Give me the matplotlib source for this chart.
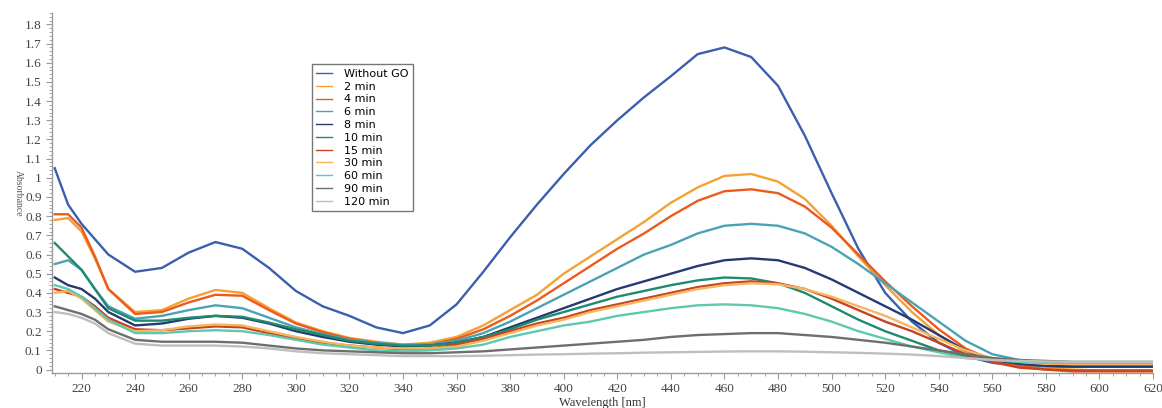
import matplotlib
matplotlib.use("Agg")
import matplotlib.pyplot as plt
from matplotlib.ticker import MultipleLocator, FuncFormatter

plt.rcParams['font.family'] = ['Liberation Serif', 'DejaVu Serif']

wavelength = [210, 215, 220, 225, 230, 240, 250, 260, 270, 280, 290, 300, 310, 320, 330,
              340, 350, 360, 370, 380, 390, 400, 410, 420, 430, 440, 450, 460, 470, 480,
              490, 500, 510, 520, 530, 540, 550, 560, 570, 580, 590, 600, 610, 620]

without_go = [1.05, 0.86, 0.76, 0.68, 0.60, 0.51, 0.53, 0.61, 0.665, 0.63, 0.53, 0.41, 0.33, 0.28, 0.22,
              0.19, 0.23, 0.34, 0.51, 0.69, 0.86, 1.02, 1.17, 1.30, 1.42, 1.53, 1.645, 1.68, 1.63, 1.48,
              1.22, 0.92, 0.63, 0.40, 0.25, 0.14, 0.07, 0.035, 0.02, 0.015, 0.015, 0.015, 0.015, 0.015]
min_2 = [0.78, 0.79, 0.72, 0.58, 0.42, 0.30, 0.31, 0.37, 0.415, 0.40, 0.32, 0.245, 0.20, 0.165, 0.145,
         0.13, 0.14, 0.17, 0.23, 0.31, 0.39, 0.50, 0.59, 0.68, 0.77, 0.87, 0.95, 1.01, 1.02, 0.98,
         0.89, 0.75, 0.59, 0.44, 0.30, 0.18, 0.09, 0.04, 0.015, 0.005, 0.0, -0.005, -0.005, -0.005]
min_4 = [0.81, 0.81, 0.74, 0.59, 0.42, 0.29, 0.30, 0.35, 0.39, 0.385, 0.31, 0.24, 0.195, 0.16, 0.14,
         0.125, 0.13, 0.16, 0.21, 0.28, 0.36, 0.45, 0.54, 0.63, 0.71, 0.80, 0.88, 0.93, 0.94, 0.92,
         0.85, 0.74, 0.60, 0.46, 0.33, 0.21, 0.11, 0.05, 0.02, 0.0, -0.01, -0.01, -0.01, -0.01]
min_6 = [0.55, 0.57, 0.52, 0.42, 0.33, 0.265, 0.28, 0.31, 0.335, 0.32, 0.27, 0.22, 0.185, 0.155, 0.14,
         0.13, 0.13, 0.15, 0.19, 0.25, 0.32, 0.39, 0.46, 0.53, 0.60, 0.65, 0.71, 0.75, 0.76, 0.75,
         0.71, 0.64, 0.55, 0.45, 0.35, 0.25, 0.15, 0.08, 0.05, 0.035, 0.03, 0.03, 0.03, 0.03]
min_8 = [0.48, 0.44, 0.42, 0.37, 0.30, 0.23, 0.24, 0.265, 0.28, 0.27, 0.24, 0.20, 0.17, 0.145, 0.13,
         0.12, 0.125, 0.14, 0.17, 0.22, 0.27, 0.32, 0.37, 0.42, 0.46, 0.50, 0.54, 0.57, 0.58, 0.57,
         0.53, 0.47, 0.40, 0.33, 0.26, 0.18, 0.10, 0.05, 0.03, 0.02, 0.015, 0.015, 0.015, 0.015]
min_10 = [0.66, 0.59, 0.52, 0.42, 0.32, 0.255, 0.255, 0.27, 0.28, 0.275, 0.245, 0.21, 0.18, 0.15, 0.135,
          0.125, 0.125, 0.14, 0.17, 0.21, 0.26, 0.30, 0.34, 0.38, 0.41, 0.44, 0.465, 0.48, 0.475, 0.45,
          0.40, 0.33, 0.26, 0.20, 0.15, 0.10, 0.07, 0.05, 0.04, 0.035, 0.035, 0.035, 0.035, 0.035]
min_15 = [0.42, 0.40, 0.38, 0.33, 0.27, 0.21, 0.205, 0.215, 0.225, 0.22, 0.19, 0.16, 0.14, 0.125, 0.115,
          0.105, 0.11, 0.13, 0.16, 0.20, 0.24, 0.27, 0.31, 0.34, 0.37, 0.40, 0.43, 0.45, 0.46, 0.45,
          0.42, 0.37, 0.31, 0.25, 0.20, 0.14, 0.08, 0.04, 0.01, 0.0, -0.005, -0.005, -0.005, -0.005]
min_30 = [0.40, 0.41, 0.37, 0.31, 0.25, 0.20, 0.205, 0.225, 0.235, 0.23, 0.20, 0.17, 0.145, 0.125, 0.115,
          0.11, 0.11, 0.12, 0.15, 0.19, 0.23, 0.26, 0.30, 0.33, 0.36, 0.39, 0.42, 0.44, 0.45, 0.445,
          0.42, 0.38, 0.33, 0.28, 0.22, 0.16, 0.10, 0.06, 0.04, 0.03, 0.03, 0.03, 0.03, 0.03]
min_60 = [0.44, 0.42, 0.38, 0.32, 0.26, 0.19, 0.19, 0.20, 0.205, 0.20, 0.18, 0.155, 0.13, 0.115, 0.10,
          0.095, 0.10, 0.11, 0.13, 0.17, 0.20, 0.23, 0.25, 0.28, 0.30, 0.32, 0.335, 0.34, 0.335, 0.32,
          0.29, 0.25, 0.20, 0.16, 0.12, 0.09, 0.06, 0.05, 0.04, 0.035, 0.035, 0.035, 0.035, 0.035]
min_90 = [0.33, 0.31, 0.29, 0.26, 0.21, 0.155, 0.145, 0.145, 0.145, 0.14, 0.125, 0.11, 0.10, 0.095, 0.09,
          0.085, 0.085, 0.09, 0.095, 0.105, 0.115, 0.125, 0.135, 0.145, 0.155, 0.17, 0.18, 0.185, 0.19, 0.19,
          0.18, 0.17, 0.155, 0.14, 0.12, 0.10, 0.08, 0.06, 0.05, 0.045, 0.04, 0.04, 0.04, 0.04]
min_120 = [0.30, 0.29, 0.27, 0.24, 0.19, 0.135, 0.125, 0.125, 0.125, 0.12, 0.11, 0.095, 0.085, 0.08, 0.075,
           0.07, 0.07, 0.07, 0.072, 0.075, 0.078, 0.08, 0.083, 0.085, 0.088, 0.09, 0.092, 0.094, 0.095, 0.095,
           0.093, 0.09, 0.087, 0.083, 0.078, 0.07, 0.06, 0.05, 0.045, 0.042, 0.04, 0.04, 0.04, 0.04]

labels = ["Without GO", "2 min", "4 min", "6 min", "8 min", "10 min",
          "15 min", "30 min", "60 min", "90 min", "120 min"]
series = [without_go, min_2, min_4, min_6, min_8, min_10, min_15, min_30, min_60, min_90, min_120]
colors = ["#3A5FAE", "#F5A133", "#EC5A1E", "#4AA3B5", "#233A72", "#1F8A6E",
          "#C8431F", "#F6B660", "#5FC9B0", "#6E6E6E", "#BEBEBE"]

fig = plt.figure(figsize=(11.62, 4.08), dpi=100)
ax = fig.add_axes([0.0448, 0.0858, 0.9475, 0.8825])

for y, lab, c in zip(series, labels, colors):
    ax.plot(wavelength, y, color=c, lw=1.7, label=lab, solid_joinstyle="round")

ax.set_xlim(209, 620)
ax.set_ylim(-0.018, 1.86)
ax.xaxis.set_major_locator(MultipleLocator(20))
ax.xaxis.set_minor_locator(MultipleLocator(5))
ax.yaxis.set_major_locator(MultipleLocator(0.1))
ax.yaxis.set_minor_locator(MultipleLocator(0.02))
ax.yaxis.set_major_formatter(FuncFormatter(lambda v, p: f"{v:.1f}".rstrip("0").rstrip(".") if abs(v) > 1e-9 else "0"))

for s in ["top", "right"]:
    ax.spines[s].set_visible(False)
for s in ["left", "bottom"]:
    ax.spines[s].set_color("#9a9a9a")
    ax.spines[s].set_linewidth(1.0)

ax.tick_params(which="major", direction="out", length=4, color="#9a9a9a",
               labelsize=9.5, labelcolor="#444444")
ax.tick_params(which="minor", direction="out", length=2, color="#9a9a9a")

ax.set_xlabel("Wavelength [nm]", fontsize=9, color="#333333", labelpad=1)
ax.set_ylabel("Absorbance", fontsize=7, color="#555555", rotation=-90, labelpad=8)

leg = ax.legend(loc="upper left", bbox_to_anchor=(0.236, 0.857),
                prop={"family": "DejaVu Sans", "size": 8},
                frameon=True, fancybox=False, shadow=False, handlelength=1.4,
                handletextpad=1.1, labelspacing=0.25, borderpad=0.4, borderaxespad=0)
leg.get_frame().set_edgecolor("#555555")
leg.get_frame().set_linewidth(1.0)
for line in leg.get_lines():
    line.set_linewidth(1.0)

fig.savefig("out.png", dpi=100)
